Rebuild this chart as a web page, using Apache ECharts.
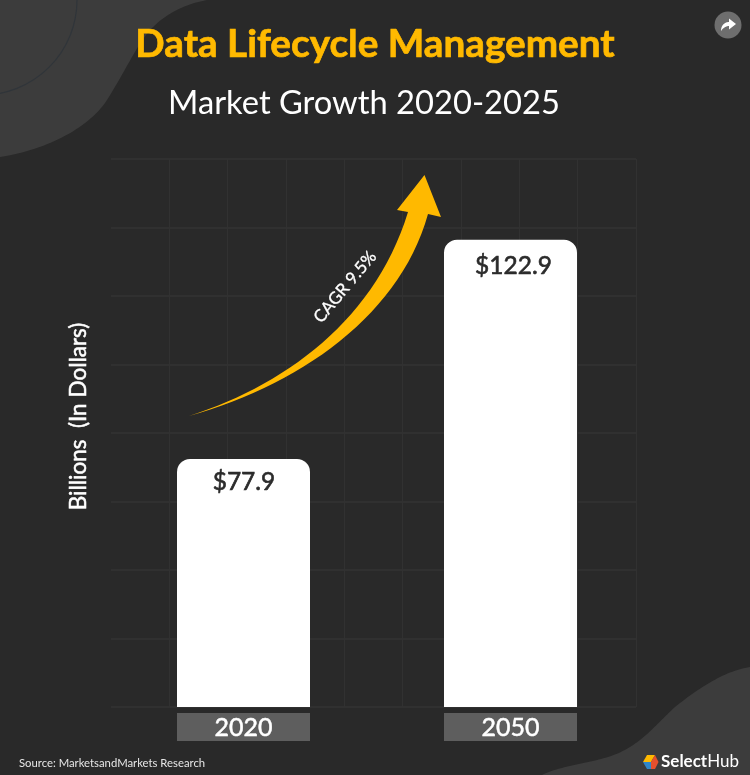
<!DOCTYPE html>
<html>
<head>
<meta charset="utf-8">
<style>html,body{margin:0;padding:0;background:#292929}#c{width:750px;height:775px}</style>
<script src="https://cdn.jsdelivr.net/npm/echarts@6/dist/echarts.min.js"></script>
</head>
<body>
<div id="c"></div>
<script>
const categories = ['2020', '2050'];
const marketValues = [77.9, 122.9];
const valueLabels = ['$77.9', '$122.9'];
const titleText = 'Data Lifecycle Management';
const subtitleText = 'Market Growth 2020-2025';
const axisTitle = 'Billions  (In Dollars)';
const cagrText = 'CAGR 9.5%';
const sourceText = 'Source: MarketsandMarkets Research';

const FONT = 'Lato';
const chart = echarts.init(document.getElementById('c'), null, {renderer: 'canvas'});
const gridLine = {show: true, showMinLine: false, lineStyle: {color: '#313131', width: 1}};
const off = {show: false};
const labelOffsets = [[0.5, 1], [3, 4]];

// Decoration helper: samples cubic segments into a polygon outline.
function outline(start, segs) {
  const pts = [start];
  let p = start;
  segs.forEach(s => {
    if (s.length === 1) { pts.push(s[0]); p = s[0]; return; }
    const [a, b, c] = s;
    for (let i = 1; i <= 30; i++) {
      const t = i / 30, u = 1 - t;
      pts.push([
        u*u*u*p[0] + 3*u*u*t*a[0] + 3*u*t*t*b[0] + t*t*t*c[0],
        u*u*u*p[1] + 3*u*u*t*a[1] + 3*u*t*t*b[1] + t*t*t*c[1]
      ]);
    }
    p = c;
  });
  return pts;
}

const blobTop = outline([0,0], [[[207,0]], [[185,4],[165,14],[150,30]], [[135,48],[125,72],[105,103]], [[85,130],[45,150],[0,157]]]);
const blobBottom = outline([750,667], [[[725,671],[700,687],[675,707]], [[655,725],[640,747],[608,757]], [[585,764],[560,766],[542,775]], [[750,775]]]);
const arrow = outline([189,416], [[[285,385],[375,320],[408,212]], [[397,210]], [[424.5,175]], [[441,217]], [[428,214]], [[400,315],[300,385],[189,416]]]);
const share = outline([721,31], [[[721,25],[725,22],[729,22]], [[729,18.5]], [[736,24]], [[729,29.5]], [[729,26]], [[726,26],[723,28],[721,31]]]);

chart.setOption({
  animation: false,
  backgroundColor: '#292929',
  title: [
    {text: titleText, left: 370, top: 20, textAlign: 'center',
     textStyle: {color: '#FFB900', fontFamily: FONT, fontWeight: 'bold', fontSize: 38.7,
       textBorderColor: '#FFB900', textBorderWidth: 0.7}},
    {text: subtitleText, left: 359, top: 82, textAlign: 'center',
     textStyle: {color: '#ffffff', fontFamily: FONT, fontWeight: 'normal', fontSize: 32.7}}
  ],
  grid: [
    {left: 111, top: 159, width: 525, height: 548},
    {left: 110, top: 159, width: 534, height: 548}
  ],
  xAxis: [
    {type: 'value', gridIndex: 0, min: 0, max: 9, interval: 1,
     axisLine: off, axisTick: off, axisLabel: off, splitLine: gridLine},
    {type: 'category', gridIndex: 1, data: categories,
     axisLine: off, axisTick: off, splitLine: off,
     axisLabel: {margin: 6, width: 133, height: 28, lineHeight: 29, align: 'center',
       backgroundColor: '#5e5e5e', color: '#ffffff',
       textBorderColor: '#ffffff', textBorderWidth: 0.5,
       fontFamily: FONT, fontSize: 25, interval: 0}}
  ],
  yAxis: [
    {type: 'value', gridIndex: 0, min: 0, max: 8, interval: 1,
     axisLine: off, axisTick: off, axisLabel: off,
     splitLine: {show: true, lineStyle: {color: '#333333', width: 1.5}}},
    {type: 'value', gridIndex: 1, min: 26.94, max: 139.5,
     axisLine: off, axisTick: off, axisLabel: off, splitLine: off}
  ],
  series: [{
    type: 'bar',
    xAxisIndex: 1,
    yAxisIndex: 1,
    barWidth: 133,
    data: marketValues.map((v, i) => ({value: v, label: {offset: labelOffsets[i]}})),
    itemStyle: {color: '#ffffff', borderRadius: [13, 13, 0, 0]},
    label: {
      show: true, position: 'insideTop', distance: 10,
      formatter: p => valueLabels[p.dataIndex],
      color: '#2b2b2b', textBorderColor: '#2b2b2b', textBorderWidth: 0.6,
      fontFamily: FONT, fontSize: 24.5
    }
  }],
  graphic: [
    {type: 'polygon', silent: true, z: -1, shape: {points: blobTop}, style: {fill: '#3c3c3c'}},
    {type: 'arc', silent: true, z: -1,
     shape: {cx: -18, cy: 0, r: 95, startAngle: 0, endAngle: Math.PI / 2},
     style: {fill: 'none', stroke: '#30353a', lineWidth: 1.2}},
    {type: 'polygon', silent: true, z: -1, shape: {points: blobBottom}, style: {fill: '#3c3c3c'}},
    {type: 'polygon', silent: true, z: 5, shape: {points: arrow}, style: {fill: '#FFB900'}},
    {type: 'text', silent: true, z: 6, x: 345, y: 287, rotation: 50 * Math.PI / 180,
     style: {text: cagrText, fill: '#ffffff', font: '17px ' + FONT,
       stroke: '#ffffff', lineWidth: 0.3,
       textAlign: 'center', textVerticalAlign: 'middle'}},
    {type: 'text', silent: true, z: 6, x: 78.5, y: 416.5, rotation: Math.PI / 2,
     style: {text: axisTitle, fill: '#ffffff', font: '22.5px ' + FONT,
       stroke: '#ffffff', lineWidth: 0.5,
       textAlign: 'center', textVerticalAlign: 'middle'}},
    {type: 'text', silent: true, z: 6, x: 19, y: 763,
     style: {text: sourceText, fill: '#e6e6e6', font: '11.3px ' + FONT,
       textAlign: 'left', textVerticalAlign: 'middle'}},
    {type: 'circle', silent: true, z: 6, shape: {cx: 728, cy: 25, r: 13.5}, style: {fill: '#6e6e6e'}},
    {type: 'polygon', silent: true, z: 7, shape: {points: share}, style: {fill: '#ffffff'}},
    {type: 'polygon', silent: true, z: 7, shape: {points: [[643,762],[647,755],[655,755],[651,762]]}, style: {fill: '#FFB900'}},
    {type: 'polygon', silent: true, z: 7, shape: {points: [[643,762],[651,762],[651,769],[647,769]]}, style: {fill: '#2F86C8'}},
    {type: 'polygon', silent: true, z: 7, shape: {points: [[651,762],[655,755],[658.5,762],[655,769],[651,769]]}, style: {fill: '#E4502D'}},
    {type: 'text', silent: true, z: 7, x: 661, y: 762,
     style: {text: '{a|Select}{b|Hub}', textVerticalAlign: 'middle',
       rich: {a: {fill: '#fff', fontFamily: FONT, fontWeight: 'bold', fontSize: 17},
              b: {fill: '#fff', fontFamily: FONT, fontWeight: 'normal', fontSize: 17}}}}
  ]
});
</script>
</body>
</html>
